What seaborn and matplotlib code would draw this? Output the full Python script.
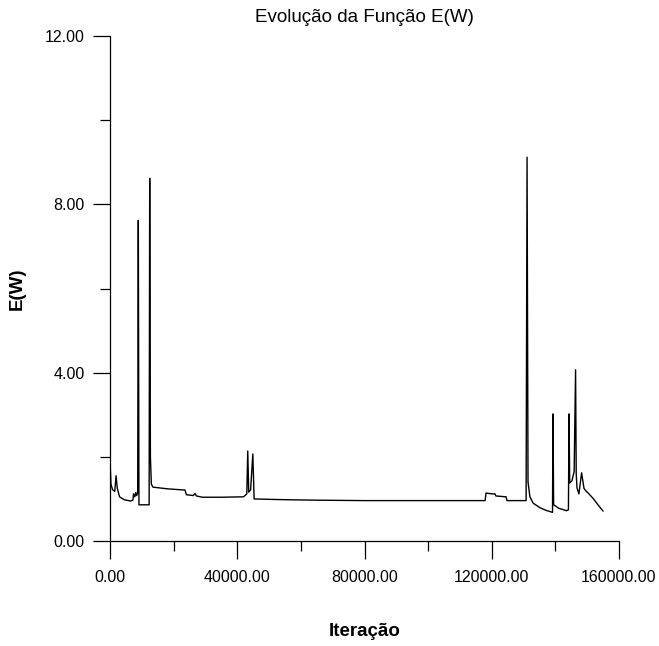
import matplotlib
matplotlib.use("Agg")
import matplotlib.pyplot as plt
from matplotlib.ticker import MultipleLocator, FormatStrFormatter
import seaborn as sns
import pandas as pd

# Data
iteracao = [0, 300, 800, 1500, 1900, 2300, 3000, 4500, 6500, 7200, 7400, 7800, 8100,
            8400, 8700, 8900, 9100, 12300, 12480, 12700, 13000, 13500, 18000, 23600,
            24000, 26200, 26700, 27200, 29000, 35000, 42000, 43000, 43300, 43600,
            44200, 44900, 45300, 50000, 56000, 65000, 80000, 100000, 117900, 118200,
            120000, 121000, 121300, 124500, 124800, 130800, 131100, 131400, 132000,
            133000, 135200, 137000, 139100, 139250, 139450, 141000, 143500, 144100,
            144300, 144500, 145200, 145900, 146350, 146550, 146800, 147400, 148250,
            149000, 149600, 150300, 152000, 153500, 155000]
ew = [1.95, 1.35, 1.22, 1.18, 1.55, 1.25, 1.05, 0.98, 0.95, 0.97, 1.12, 1.05, 1.15,
      1.08, 1.15, 7.62, 0.86, 0.86, 8.62, 2.0, 1.35, 1.28, 1.24, 1.21,
      1.10, 1.08, 1.13, 1.07, 1.04, 1.04, 1.05, 1.12, 2.14, 1.16,
      1.22, 2.07, 1.00, 0.99, 0.98, 0.97, 0.96, 0.96, 0.96, 1.14,
      1.12, 1.12, 1.07, 1.05, 0.96, 0.96, 9.12, 1.40, 1.05,
      0.90, 0.79, 0.73, 0.68, 3.02, 0.86, 0.78, 0.72, 0.74,
      3.02, 1.38, 1.43, 1.65, 4.07, 1.60, 1.26, 1.12, 1.62,
      1.25, 1.19, 1.14, 1.00, 0.85, 0.71]

x_ticks = [0, 40000, 80000, 120000, 160000]
y_ticks = [0, 4, 8, 12]

df = pd.DataFrame({"Iteração": iteracao, "E(W)": ew})

sns.set_theme(style="ticks")
plt.rcParams["font.family"] = ["Liberation Sans", "DejaVu Sans"]
plt.rcParams["text.color"] = "black"
plt.rcParams["axes.labelcolor"] = "black"

fig = plt.figure(figsize=(6.59, 6.46), dpi=100)
ax = fig.add_axes([110 / 659, 1 - 541 / 646, 509 / 659, 505 / 646])

sns.lineplot(data=df, x="Iteração", y="E(W)", ax=ax, color="black",
             linewidth=1.0, estimator=None, sort=False)

ax.set_xlim(0, 160000)
ax.set_ylim(0, 12)
ax.set_xticks(x_ticks)
ax.set_yticks(y_ticks)
ax.xaxis.set_minor_locator(MultipleLocator(20000))
ax.yaxis.set_minor_locator(MultipleLocator(2))
ax.xaxis.set_major_formatter(FormatStrFormatter("%.2f"))
ax.yaxis.set_major_formatter(FormatStrFormatter("%.2f"))

sns.despine(ax=ax)
for s in ("left", "bottom"):
    ax.spines[s].set_linewidth(0.9)
    ax.spines[s].set_color("black")

ax.tick_params(axis="x", which="major", length=13, width=0.9, pad=8,
               labelsize=11.5, colors="black")
ax.tick_params(axis="x", which="minor", length=7, width=0.9, colors="black")
ax.tick_params(axis="y", which="major", length=12, width=0.9, pad=6,
               labelsize=11.5, colors="black")
ax.tick_params(axis="y", which="minor", length=7, width=0.9, colors="black")

ax.set_xlabel("Iteração", fontsize=13.5, fontweight="bold", labelpad=27,
              color="black")
ax.set_ylabel("E(W)", fontsize=13.5, fontweight="bold", labelpad=14,
              color="black")
ax.set_title("Evolução da Função E(W)", fontsize=13.5, pad=10, color="black")

fig.savefig("out.png", dpi=100, facecolor="white")
